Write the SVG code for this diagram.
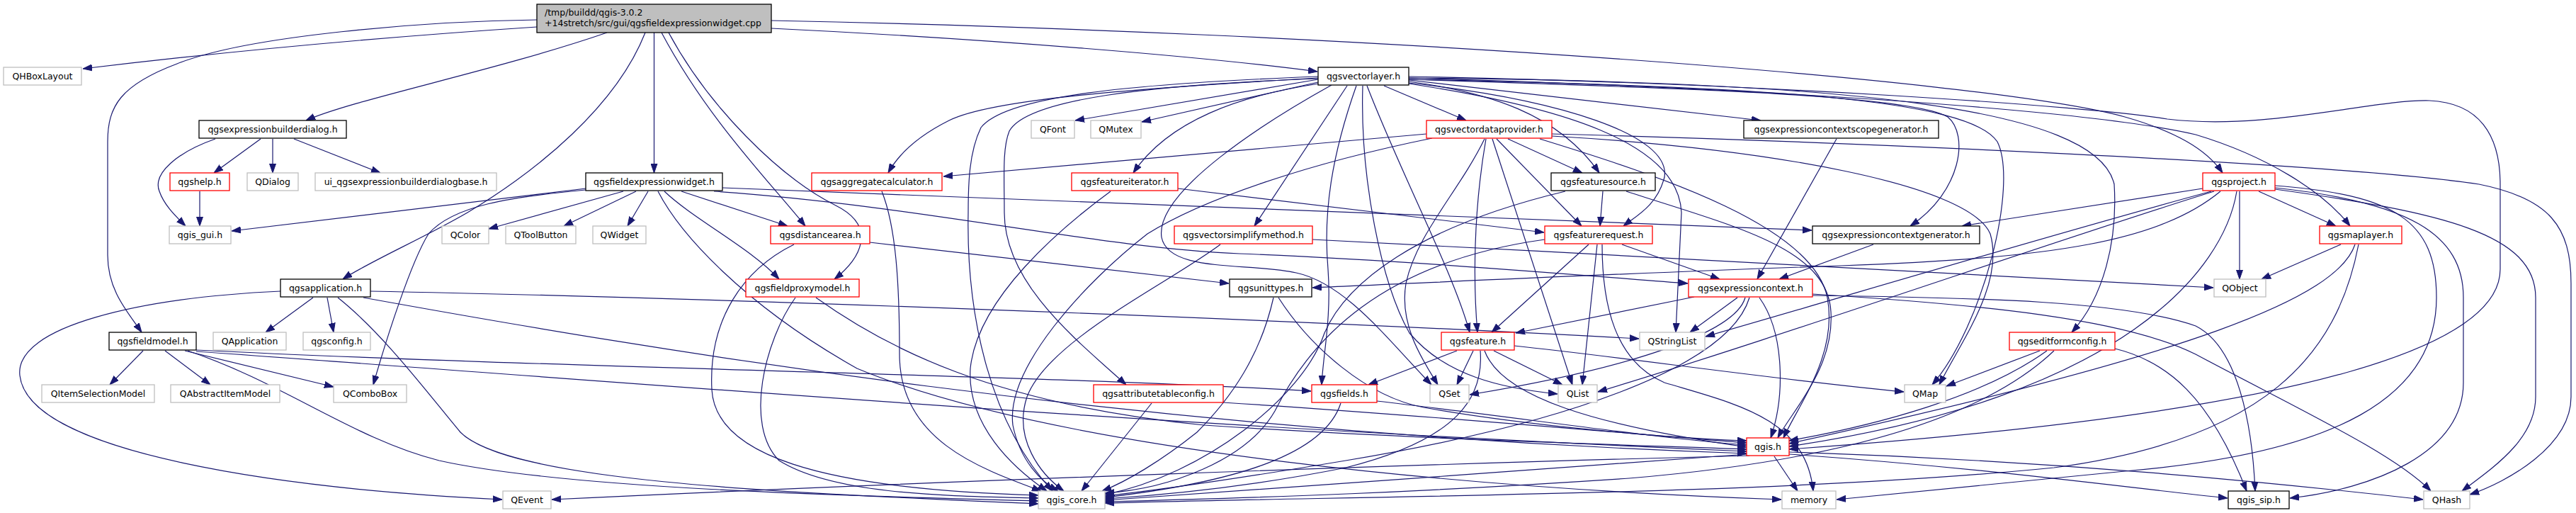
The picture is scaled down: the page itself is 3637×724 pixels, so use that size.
<svg xmlns="http://www.w3.org/2000/svg" width="3637" height="724" viewBox="0 0 3637 724">
<style>
.e path{fill:none;stroke:#191970;stroke-width:1.2;marker-end:url(#a)}
.n rect{fill:#fff;stroke-width:1.3}
.k rect{stroke:#000}
.r rect{stroke:#ff0000}
.g rect{stroke:#bfbfbf}
.m rect{fill:#bfbfbf;stroke:#000}
.n text{font-family:"DejaVu Sans","Liberation Sans",sans-serif;font-size:12.5px;text-anchor:middle;fill:#000}
.m text{text-anchor:start}
</style>
<defs>
<marker id="a" markerWidth="13" markerHeight="10" refX="13" refY="5" orient="auto" markerUnits="userSpaceOnUse"><path d="M0,0.5 L13,5 L0,9.5 z" fill="#191970" stroke="#191970" stroke-width="1"/></marker>
</defs>
<rect width="3637" height="724" fill="#fff"/>
<g id="edges" class="e">
<path d="M758,38 C500,55 300,75 117,97"/>
<path d="M857,46 C700,100 500,140 432,170"/>
<path d="M1089,40 C1400,55 1700,80 1860,101"/>
<path d="M1089,29 C1900,45 2800,110 3000,165 C3070,185 3115,210 3138,244"/>
<path d="M758,28 C600,30 350,50 250,90 C170,120 152,150 152,200 L152,360 C152,410 180,440 200,469"/>
<path d="M923.5,46 L923.5,244"/>
<path d="M934,46 C1000,170 1090,260 1137,319"/>
<path d="M944,46 C1000,150 1100,250 1180,290 C1240,320 1215,365 1178,394"/>
<path d="M911,46 C870,150 760,240 660,300 C600,335 520,370 484,394"/>
<path d="M368,196 L302,244"/>
<path d="M385,196 L385,244"/>
<path d="M415,196 L537,244"/>
<path d="M304,196 C250,215 215,245 225,270 C232,290 248,305 262,319"/>
<path d="M282,270 L282,319"/>
<path d="M827,266 L327,326"/>
<path d="M880,270 L690,323"/>
<path d="M898,270 L796,319"/>
<path d="M915,270 L886,319"/>
<path d="M962,270 L1112,319"/>
<path d="M938,270 C980,310 1060,350 1100,394"/>
<path d="M827,268 C720,278 640,290 605,330 C580,370 545,480 527,543"/>
<path d="M1020,265 L2558,325"/>
<path d="M1008,270 C1300,290 1550,350 1750,358 C2000,368 2250,390 2383,400"/>
<path d="M929,270 C960,330 1050,430 1210,520 C1500,640 2100,690 2515,705"/>
<path d="M1861,112 L1518,170"/>
<path d="M1861,116 L1612,172"/>
<path d="M1861,110 C1600,125 1400,140 1340,170 C1300,190 1270,215 1254,244"/>
<path d="M1862,118 C1750,135 1650,170 1600,244"/>
<path d="M1954,121 L2070,170"/>
<path d="M1989,113 L2486,170"/>
<path d="M1989,115 C2100,130 2200,160 2258,244"/>
<path d="M1989,117 C2200,140 2360,190 2350,250 C2340,290 2310,305 2292,319"/>
<path d="M1989,112 C2400,125 2700,135 2750,165 C2780,190 2770,270 2697,319"/>
<path d="M1989,110 C2500,125 2950,155 3100,190 C3200,220 3280,270 3318,319"/>
<path d="M1989,108 C2500,118 2950,150 3060,168 C3200,185 3350,140 3430,142 C3500,145 3530,190 3530,260 L3530,380 C3530,480 3300,580 2526,634"/>
<path d="M1861,108 C1600,118 1420,135 1385,180 C1368,215 1367,260 1367,300 C1364,450 1400,600 1486,693"/>
<path d="M1861,111 C1620,120 1450,140 1425,185 C1415,210 1418,250 1418,300 C1418,400 1520,480 1590,543"/>
<path d="M1880,120 C1790,170 1630,270 1640,335 C1650,385 1760,370 1830,385 C1900,400 1960,480 2021,543"/>
<path d="M1989,118 C2200,150 2370,200 2374,300 L2366,469"/>
<path d="M1989,112 C2500,122 2780,140 2820,200 C2850,260 2800,460 2728,543"/>
<path d="M1989,110 C2600,115 2960,150 2985,260 C2990,340 2970,420 2925,469"/>
<path d="M1930,121 C1980,250 2050,380 2075,469"/>
<path d="M1924,121 C1920,250 1950,400 1990,470 C2040,530 2120,548 2199,556"/>
<path d="M1915,121 C1880,220 1868,300 1875,380 C1880,450 1868,500 1866,543"/>
<path d="M1902,121 L1771,319"/>
<path d="M2014,189 L1332,249"/>
<path d="M2022,195 C1850,230 1700,280 1620,330 C1530,400 1420,520 1430,600 C1440,650 1470,680 1494,693"/>
<path d="M2096,196 C2060,270 2000,330 1985,400 C1975,460 2010,510 2030,543"/>
<path d="M2098,196 C2080,300 2080,400 2086,469"/>
<path d="M2107,196 L2220,543"/>
<path d="M2113,196 L2233,319"/>
<path d="M2129,196 L2234,244"/>
<path d="M2191,189 C2600,200 3300,230 3500,260 C3600,280 3630,320 3630,400 L3630,560 C3630,630 3540,680 3487,698"/>
<path d="M2191,192 C2500,210 2780,260 2810,330 C2830,400 2770,480 2738,543"/>
<path d="M2174,196 C2350,250 2560,320 2580,420 C2595,500 2540,570 2518,618"/>
<path d="M1663,266 L2180,328"/>
<path d="M1568,270 C1500,320 1380,420 1370,520 C1365,600 1430,660 1478,693"/>
<path d="M1245,270 C1265,320 1270,400 1270,500 C1270,620 1380,660 1470,693"/>
<path d="M1228,342 L1735,400"/>
<path d="M1121,345 C1050,380 1000,450 1005,550 C1010,640 1150,690 1466,699"/>
<path d="M1123,420 C1080,480 1050,600 1100,650 C1180,700 1350,700 1466,703"/>
<path d="M1152,420 C1250,490 1400,570 1700,600 C2000,620 2300,628 2466,634"/>
<path d="M202,495 L155,543"/>
<path d="M233,495 L297,543"/>
<path d="M261,495 L471,546"/>
<path d="M265,495 C400,540 500,620 620,650 C800,690 1200,700 1466,707"/>
<path d="M277,494 C800,520 1500,530 1851,552"/>
<path d="M277,496 C900,540 1600,600 2466,637"/>
<path d="M442,420 L375,469"/>
<path d="M462,420 L471,469"/>
<path d="M396,411 C200,420 20,460 28,530 C40,640 400,690 709,705"/>
<path d="M523,411 C1000,420 1800,450 2314,478"/>
<path d="M477,420 C540,470 600,550 650,610 C720,680 1100,695 1466,711"/>
<path d="M513,420 C900,490 1600,610 2466,640"/>
<path d="M1798,420 C1780,500 1740,560 1690,610 C1640,650 1590,680 1556,693"/>
<path d="M1805,420 C1850,490 1930,560 2010,575 C2150,600 2350,618 2466,622"/>
<path d="M2392,419 L2140,470"/>
<path d="M2453,420 L2386,469"/>
<path d="M2464,420 C2450,470 2300,520 2075,557"/>
<path d="M2484,420 C2520,470 2520,560 2500,618"/>
<path d="M2470,420 C2440,520 2200,600 1900,650 C1750,675 1650,690 1560,700"/>
<path d="M2559,415 C2800,430 3000,450 3100,500 C3250,580 3380,640 3432,693"/>
<path d="M2559,417 C2800,420 3000,425 3100,460 C3160,490 3180,600 3184,693"/>
<path d="M2593,196 L2481,394"/>
<path d="M2645,345 L2512,394"/>
<path d="M2290,345 L2428,394"/>
<path d="M2243,345 L2106,469"/>
<path d="M2255,345 L2234,543"/>
<path d="M2262,345 C2262,430 2280,510 2350,540 C2450,570 2550,590 2560,693"/>
<path d="M2181,338 C1950,370 1850,480 1800,580 C1760,650 1650,690 1560,696"/>
<path d="M2263,270 L2259,319"/>
<path d="M2210,270 C2000,320 1900,400 1870,470 C1840,560 1700,670 1560,698"/>
<path d="M2296,270 C2450,320 2580,350 2585,440 C2590,520 2530,580 2510,618"/>
<path d="M1853,338 C2300,360 2800,390 3125,406"/>
<path d="M1723,345 C1650,400 1480,480 1450,560 C1430,620 1470,670 1502,693"/>
<path d="M1626,569 L1527,693"/>
<path d="M1727,568 C2000,585 2300,612 2466,625"/>
<path d="M2057,495 L1932,543"/>
<path d="M2080,495 L2057,543"/>
<path d="M2109,495 L2206,543"/>
<path d="M2138,488 C2300,505 2500,535 2688,553"/>
<path d="M2096,495 C2120,560 2250,600 2466,631"/>
<path d="M2090,495 C2095,560 2060,620 1900,660 C1750,690 1620,700 1560,704"/>
<path d="M1893,569 C1870,640 1750,680 1560,702"/>
<path d="M1944,566 C2150,590 2350,620 2466,628"/>
<path d="M2880,495 L2748,545"/>
<path d="M2890,495 C2800,560 2650,600 2526,622"/>
<path d="M2900,495 C2800,590 2600,650 2300,675 C2000,695 1800,702 1560,708"/>
<path d="M2986,492 C3060,510 3120,560 3172,693"/>
<path d="M3110,266 L2770,319"/>
<path d="M3122,270 C2900,330 2600,420 2408,475"/>
<path d="M3126,270 C2900,340 2500,480 2256,553"/>
<path d="M3135,270 C3050,340 2900,365 2600,375 C2300,385 2000,400 1853,406"/>
<path d="M3162,270 L3162,394"/>
<path d="M3189,270 L3298,319"/>
<path d="M3158,270 C3140,380 3000,560 2526,630"/>
<path d="M3212,262 C3380,275 3440,310 3440,420 C3440,560 3300,640 3000,665 C2800,685 2650,700 2593,705"/>
<path d="M3212,265 C3400,285 3478,330 3478,420 L3478,540 C3478,640 3350,690 3233,703"/>
<path d="M3212,267 C3450,300 3580,330 3580,420 L3580,560 C3580,620 3520,660 3476,693"/>
<path d="M3305,345 L3193,394"/>
<path d="M3325,345 C3300,420 3100,500 2526,626"/>
<path d="M3330,345 C3300,500 3200,620 2900,660 C2500,700 1900,700 1560,710"/>
<path d="M2470,643 C2000,655 1300,680 779,705"/>
<path d="M2466,641 C2200,660 1800,690 1560,706"/>
<path d="M2505,644 L2538,693"/>
<path d="M2526,641 C2800,660 3000,688 3145,703"/>
<path d="M2526,638 C2900,650 3200,680 3421,705"/>
</g>
<g id="n_main" class="n m"><rect x="758" y="6" width="331" height="40"/><text x="769" y="21.5">/tmp/buildd/qgis-3.0.2</text><text x="769" y="37">+14stretch/src/gui/qgsfieldexpressionwidget.cpp</text></g>
<g id="n_qhboxlayout" class="n g"><rect x="5" y="95" width="110" height="25"/><text x="60" y="112">QHBoxLayout</text></g>
<g id="n_qgsvectorlayer" class="n k"><rect x="1861" y="95" width="128" height="25"/><text x="1925" y="112">qgsvectorlayer.h</text></g>
<g id="n_qgsexpressionbuilderdialog" class="n k"><rect x="281" y="170" width="208" height="25"/><text x="385" y="187">qgsexpressionbuilderdialog.h</text></g>
<g id="n_qfont" class="n g"><rect x="1456" y="170" width="61" height="25"/><text x="1486.5" y="187">QFont</text></g>
<g id="n_qmutex" class="n g"><rect x="1540" y="170" width="71" height="25"/><text x="1575.5" y="187">QMutex</text></g>
<g id="n_qgsvectordataprovider" class="n r"><rect x="2014" y="170" width="177" height="25"/><text x="2102.5" y="187">qgsvectordataprovider.h</text></g>
<g id="n_qgsexpressioncontextscopegenerator" class="n k"><rect x="2462" y="170" width="275" height="25"/><text x="2599.5" y="187">qgsexpressioncontextscopegenerator.h</text></g>
<g id="n_qgshelp" class="n r"><rect x="240" y="244" width="84" height="25"/><text x="282" y="261">qgshelp.h</text></g>
<g id="n_qdialog" class="n g"><rect x="349" y="244" width="72" height="25"/><text x="385" y="261">QDialog</text></g>
<g id="n_ui_builderdialogbase" class="n g"><rect x="445" y="244" width="256" height="25"/><text x="573" y="261">ui_qgsexpressionbuilderdialogbase.h</text></g>
<g id="n_qgsfieldexpressionwidget" class="n k"><rect x="827" y="244" width="193" height="25"/><text x="923.5" y="261">qgsfieldexpressionwidget.h</text></g>
<g id="n_qgsaggregatecalculator" class="n r"><rect x="1146" y="244" width="184" height="25"/><text x="1238" y="261">qgsaggregatecalculator.h</text></g>
<g id="n_qgsfeatureiterator" class="n r"><rect x="1513" y="244" width="150" height="25"/><text x="1588" y="261">qgsfeatureiterator.h</text></g>
<g id="n_qgsfeaturesource" class="n k"><rect x="2190" y="244" width="147" height="25"/><text x="2263.5" y="261">qgsfeaturesource.h</text></g>
<g id="n_qgsproject" class="n r"><rect x="3110" y="244" width="102" height="25"/><text x="3161" y="261">qgsproject.h</text></g>
<g id="n_qgis_gui" class="n g"><rect x="239" y="319" width="87" height="25"/><text x="282.5" y="336">qgis_gui.h</text></g>
<g id="n_qcolor" class="n g"><rect x="624" y="319" width="66" height="25"/><text x="657" y="336">QColor</text></g>
<g id="n_qtoolbutton" class="n g"><rect x="714" y="319" width="99" height="25"/><text x="763.5" y="336">QToolButton</text></g>
<g id="n_qwidget" class="n g"><rect x="837" y="319" width="75" height="25"/><text x="874.5" y="336">QWidget</text></g>
<g id="n_qgsdistancearea" class="n r"><rect x="1088" y="319" width="140" height="25"/><text x="1158" y="336">qgsdistancearea.h</text></g>
<g id="n_qgsvectorsimplifymethod" class="n r"><rect x="1658" y="319" width="195" height="25"/><text x="1755.5" y="336">qgsvectorsimplifymethod.h</text></g>
<g id="n_qgsfeaturerequest" class="n r"><rect x="2181" y="319" width="152" height="25"/><text x="2257" y="336">qgsfeaturerequest.h</text></g>
<g id="n_qgsexpressioncontextgenerator" class="n k"><rect x="2559" y="319" width="236" height="25"/><text x="2677" y="336">qgsexpressioncontextgenerator.h</text></g>
<g id="n_qgsmaplayer" class="n r"><rect x="3275" y="319" width="116" height="25"/><text x="3333" y="336">qgsmaplayer.h</text></g>
<g id="n_qgsapplication" class="n k"><rect x="396" y="394" width="127" height="25"/><text x="459.5" y="411">qgsapplication.h</text></g>
<g id="n_qgsfieldproxymodel" class="n r"><rect x="1053" y="394" width="160" height="25"/><text x="1133" y="411">qgsfieldproxymodel.h</text></g>
<g id="n_qgsunittypes" class="n k"><rect x="1736" y="394" width="116" height="25"/><text x="1794" y="411">qgsunittypes.h</text></g>
<g id="n_qgsexpressioncontext" class="n r"><rect x="2384" y="394" width="175" height="25"/><text x="2471.5" y="411">qgsexpressioncontext.h</text></g>
<g id="n_qobject" class="n g"><rect x="3126" y="394" width="73" height="25"/><text x="3162.5" y="411">QObject</text></g>
<g id="n_qgsfieldmodel" class="n k"><rect x="154" y="469" width="123" height="25"/><text x="215.5" y="486">qgsfieldmodel.h</text></g>
<g id="n_qapplication" class="n g"><rect x="301" y="469" width="103" height="25"/><text x="352.5" y="486">QApplication</text></g>
<g id="n_qgsconfig" class="n g"><rect x="428" y="469" width="95" height="25"/><text x="475.5" y="486">qgsconfig.h</text></g>
<g id="n_qgsfeature" class="n r"><rect x="2035" y="469" width="103" height="25"/><text x="2086.5" y="486">qgsfeature.h</text></g>
<g id="n_qstringlist" class="n g"><rect x="2315" y="469" width="92" height="25"/><text x="2361" y="486">QStringList</text></g>
<g id="n_qgseditformconfig" class="n r"><rect x="2837" y="469" width="149" height="25"/><text x="2911.5" y="486">qgseditformconfig.h</text></g>
<g id="n_qitemselectionmodel" class="n g"><rect x="59" y="543" width="159" height="25"/><text x="138.5" y="560">QItemSelectionModel</text></g>
<g id="n_qabstractitemmodel" class="n g"><rect x="241" y="543" width="154" height="25"/><text x="318" y="560">QAbstractItemModel</text></g>
<g id="n_qcombobox" class="n g"><rect x="471" y="543" width="103" height="25"/><text x="522.5" y="560">QComboBox</text></g>
<g id="n_qgsattributetableconfig" class="n r"><rect x="1544" y="543" width="183" height="25"/><text x="1635.5" y="560">qgsattributetableconfig.h</text></g>
<g id="n_qgsfields" class="n r"><rect x="1852" y="543" width="92" height="25"/><text x="1898" y="560">qgsfields.h</text></g>
<g id="n_qset" class="n g"><rect x="2019" y="543" width="55" height="25"/><text x="2046.5" y="560">QSet</text></g>
<g id="n_qlist" class="n g"><rect x="2200" y="543" width="55" height="25"/><text x="2227.5" y="560">QList</text></g>
<g id="n_qmap" class="n g"><rect x="2689" y="543" width="58" height="25"/><text x="2718" y="560">QMap</text></g>
<g id="n_qgis" class="n r"><rect x="2466" y="618" width="60" height="25"/><text x="2496" y="635">qgis.h</text></g>
<g id="n_qevent" class="n g"><rect x="710" y="693" width="68" height="25"/><text x="744" y="710">QEvent</text></g>
<g id="n_qgis_core" class="n g"><rect x="1466" y="693" width="94" height="25"/><text x="1513" y="710">qgis_core.h</text></g>
<g id="n_memory" class="n g"><rect x="2516" y="693" width="76" height="25"/><text x="2554" y="710">memory</text></g>
<g id="n_qgis_sip" class="n k"><rect x="3146" y="693" width="86" height="25"/><text x="3189" y="710">qgis_sip.h</text></g>
<g id="n_qhash" class="n g"><rect x="3422" y="693" width="65" height="25"/><text x="3454.5" y="710">QHash</text></g>
</svg>
